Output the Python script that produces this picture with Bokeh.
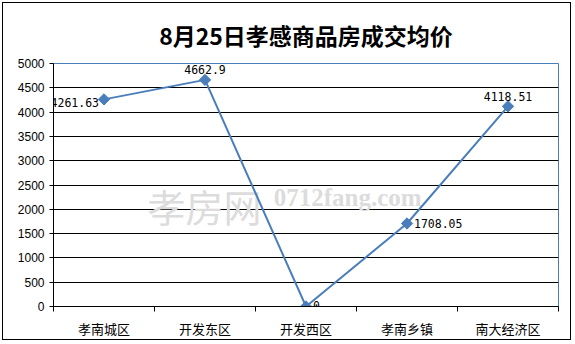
from bokeh.plotting import figure
from bokeh.models import FixedTicker, ColumnDataSource, Range1d
from bokeh.core.properties import value
from bokeh.embed import file_html
from bokeh.resources import INLINE

# ---- data ----
title_text = "8月25日孝感商品房成交均价"
categories = ["孝南城区", "开发东区", "开发西区", "孝南乡镇", "南大经济区"]
prices = [4261.63, 4662.9, 0, 1708.05, 4118.51]
yticks = [0, 500, 1000, 1500, 2000, 2500, 3000, 3500, 4000, 4500, 5000]
watermark_cn = "孝房网"
watermark_en = "0712fang.com"

LINE = "#4a7ebb"

xs = [i + 0.5 for i in range(len(categories))]
bounds = [i for i in range(len(categories) + 1)]

p = figure(width=569, height=338, output_backend="svg", toolbar_location=None,
           x_range=Range1d(0, len(categories)), y_range=Range1d(yticks[0], yticks[-1]),
           min_border_left=50, min_border_right=14, min_border_top=60, min_border_bottom=35)
p.styles = {"border": "1px solid #000", "margin": "2px"}

p.title.text = title_text
p.title.align = "center"
p.title.text_font = "Noto Sans CJK SC"
p.title.text_font_size = "23px"
p.title.text_font_style = "bold"
p.title.text_color = "#000000"
p.title.standoff = 24

p.outline_line_color = LINE
p.outline_line_width = 1
p.background_fill_color = "white"
p.border_fill_color = "white"

# y axis
p.yaxis.ticker = FixedTicker(ticks=yticks, minor_ticks=[])
p.yaxis.axis_line_color = "black"
p.yaxis.major_tick_line_color = "black"
p.yaxis.major_tick_out = 4
p.yaxis.major_tick_in = 0
p.yaxis.minor_tick_line_color = None
p.yaxis.major_label_text_font = "Liberation Sans"
p.yaxis.major_label_text_font_size = "12px"
p.yaxis.major_label_text_color = "black"
p.yaxis.major_label_standoff = 5

# x axis
p.xaxis.ticker = FixedTicker(ticks=xs, minor_ticks=bounds)
p.xaxis.major_label_overrides = {x: c for x, c in zip(xs, categories)}
p.xaxis.axis_line_color = "black"
p.xaxis.major_tick_out = 0
p.xaxis.major_tick_in = 0
p.xaxis.major_tick_line_color = None
p.xaxis.minor_tick_line_color = "black"
p.xaxis.minor_tick_out = 5
p.xaxis.minor_tick_in = 0
p.xaxis.major_label_text_font = "Noto Sans CJK SC"
p.xaxis.major_label_text_font_size = "13px"
p.xaxis.major_label_text_color = "black"
p.xaxis.major_label_standoff = 7

# grid
p.xgrid.grid_line_color = None
p.ygrid.ticker = FixedTicker(ticks=yticks[1:-1])
p.ygrid.grid_line_color = "black"
p.ygrid.grid_line_width = 1

# watermark
p.text(x=[0.93], y=[2084], text=[watermark_cn], text_font=value("Noto Sans CJK SC"),
       text_font_size="38px", text_color="#dcdcdc", text_baseline="alphabetic")
p.text(x=[2.18], y=[2248], text=[watermark_en], text_font=value("Liberation Serif"),
       text_font_size="25px", text_font_style="bold", text_color="#dcdcdc",
       text_baseline="alphabetic")

# line + markers
p.line(xs, prices, line_color=LINE, line_width=2)
p.scatter(xs, prices, marker="square", angle=0.785398, size=8, fill_color=LINE, line_color=LINE)

# data labels
label_dx = [-5, 0, 7, 7, 0]
label_dy = [3, -10, -1, 0, -10]
label_align = ["right", "center", "left", "left", "center"]
src = ColumnDataSource(dict(x=xs, y=prices, t=[f"{v:g}" for v in prices],
                            dx=label_dx, dy=label_dy, al=label_align))
p.text(x="x", y="y", text="t", x_offset="dx", y_offset="dy", text_align="al",
       text_baseline="middle", text_font=value("DejaVu Sans Mono"),
       text_font_size="11.5px", text_color="black", source=src)

open("out.html", "w").write(file_html(p, INLINE))
